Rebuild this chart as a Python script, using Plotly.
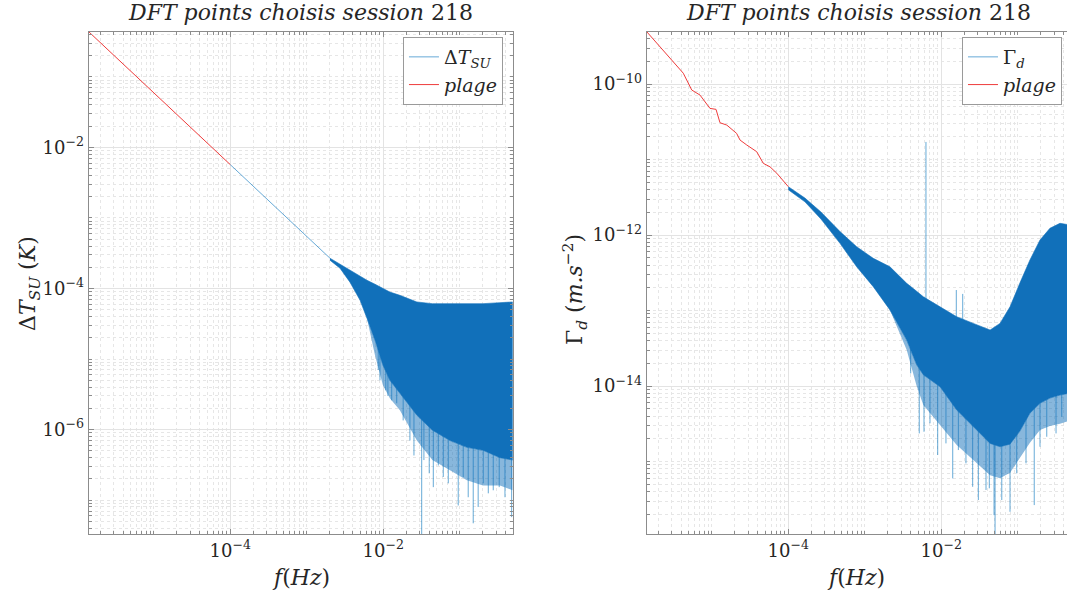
import plotly.graph_objects as go
from plotly.subplots import make_subplots

# ---------------- left panel : Delta T_SU (K) ----------------
dT_line_f = [1.0e-4, 2.01e-3]
dT_line_v = [5.7e-3, 2.69e-4]

dT_band_f = [2.01e-3, 2.72e-3, 3.67e-3, 4.98e-3, 6.12e-3, 7.8e-3, 9.9e-3, 1.22e-2,
             1.65e-2, 2.75e-2, 4.39e-2, 7.45e-2, 0.124, 0.201, 0.335, 0.492]
dT_band_hi = [2.69e-4, 2.2e-4, 1.82e-4, 1.49e-4, 1.31e-4, 1.15e-4, 1.01e-4, 8.9e-5,
              8.0e-5, 6.45e-5, 6.1e-5, 6.1e-5, 6.1e-5, 6.1e-5, 6.3e-5, 6.45e-5]
dT_band_lo = [2.52e-4, 1.94e-4, 1.23e-4, 6.8e-5, 3.8e-5, 1.85e-5, 8.2e-6, 5.0e-6,
              3.27e-6, 1.6e-6, 9.8e-7, 7.0e-7, 5.6e-7, 5.1e-7, 4.0e-7, 3.7e-7]
dT_halo_lo = [2.52e-4, 1.94e-4, 1.23e-4, 6.8e-5, 3.8e-5, 1.13e-5, 4.25e-6, 2.78e-6,
              1.88e-6, 7.0e-7, 3.7e-7, 2.65e-7, 1.91e-7, 1.62e-7, 1.62e-7, 1.38e-7]

dT_spike_f = [8.6e-3, 9.06e-3, 1.08e-2, 1.15e-2, 1.29e-2, 1.50e-2, 1.82e-2, 2.23e-2,
              2.52e-2, 3.18e-2, 3.40e-2, 3.99e-2, 4.51e-2, 5.24e-2, 6.09e-2, 7.08e-2,
              9.55e-2, 0.111, 0.129, 0.150, 0.174, 0.203, 0.236, 0.274, 0.328, 0.390, 0.477]
dT_spike_v = [7.0e-6, 5.0e-6, 3.6e-6, 3.0e-6, 2.6e-6, 2.36e-6, 1.35e-6, 7.0e-7,
              4.3e-7, 2.0e-8, 3.7e-7, 2.4e-7, 1.53e-7, 3.1e-7, 2.13e-7, 1.73e-7,
              8.4e-8, 2.13e-7, 1.1e-7, 4.7e-8, 8.0e-8, 1.73e-7, 1.25e-7, 1.38e-7, 1.53e-7, 1.1e-7, 5.75e-8]
dT_spike_top = 2.0e-5

dT_plage_f = [1.41e-6, 1.0e-4]
dT_plage_v = [0.437, 5.7e-3]

# ---------------- right panel : Gamma_d (m.s^-2) ----------------
Gd_band_f = [1.0e-4, 1.65e-4, 2.67e-4, 4.74e-4, 7.83e-4, 1.29e-3, 2.13e-3, 3.53e-3,
             4.76e-3, 5.82e-3, 9.62e-3, 1.59e-2, 2.62e-2, 4.34e-2, 5.85e-2, 7.91e-2,
             0.106, 0.144, 0.195, 0.263, 0.356, 0.50]
Gd_band_hi = [4.37e-12, 3.09e-12, 2.02e-12, 1.11e-12, 7.0e-13, 4.91e-13, 3.80e-13, 2.29e-13,
              1.80e-13, 1.52e-13, 1.12e-13, 8.28e-14, 6.76e-14, 5.52e-14, 6.76e-14, 1.12e-13,
              2.29e-13, 4.67e-13, 8.59e-13, 1.23e-12, 1.43e-12, 1.35e-12]
Gd_band_lo = [3.98e-12, 2.75e-12, 1.63e-12, 7.76e-13, 3.80e-13, 2.07e-13, 1.02e-13, 4.06e-14,
              1.91e-14, 1.41e-14, 9.8e-15, 4.81e-15, 2.89e-15, 1.74e-15, 1.57e-15, 1.70e-15,
              2.51e-15, 4.37e-15, 5.90e-15, 6.92e-15, 7.59e-15, 8.13e-15]
Gd_halo_lo = [3.98e-12, 2.75e-12, 1.63e-12, 7.76e-13, 3.80e-13, 2.07e-13, 1.02e-13, 3.0e-14,
              1.0e-14, 5.6e-15, 3.04e-15, 1.66e-15, 1.05e-15, 6.6e-16, 6.0e-16, 7.1e-16,
              1.12e-15, 1.78e-15, 2.61e-15, 2.95e-15, 3.16e-15, 3.55e-15]

Gd_spike_f = [3.98e-3, 5.15e-3, 5.94e-3, 6.3e-3, 7.11e-3, 8.97e-3, 1.15e-2, 1.41e-2,
              1.57e-2, 1.67e-2, 1.905e-2, 2.10e-2, 2.57e-2, 3.05e-2, 3.84e-2, 4.24e-2,
              4.89e-2, 5.04e-2, 6.17e-2, 7.91e-2, 9.68e-2, 0.128, 0.164, 0.195, 0.239,
              0.316, 0.375]
Gd_spike_v = [1.47e-14, 2.36e-15, 2.48e-15, 1.71e-11, 3.21e-15, 1.22e-15, 1.74e-15, 5.98e-16,
              1.87e-13, 1.42e-15, 1.66e-13, 9.46e-16, 4.63e-16, 3.09e-16, 4.20e-16, 4.42e-16,
              1.95e-16, 8.0e-17, 3.09e-16, 2.16e-16, 6.97e-16, 9.46e-16, 2.65e-16, 1.57e-15, 2.13e-15,
              2.36e-15, 3.92e-15]
Gd_spike_top = 4.0e-14

Gd_plage_f = [1.41e-6, 4.24e-6, 5.46e-6, 7.01e-6, 9.46e-6, 1.135e-5, 1.28e-5, 1.57e-5,
              2.11e-5, 2.34e-5, 2.86e-5, 3.86e-5, 4.71e-5, 5.77e-5, 7.05e-5, 1.0e-4]
Gd_plage_v = [4.93e-10, 1.39e-10, 8.34e-11, 7.14e-11, 4.76e-11, 4.62e-11, 3.07e-11, 2.86e-11,
              2.22e-11, 1.81e-11, 1.56e-11, 1.27e-11, 8.9e-12, 8.0e-12, 6.6e-12, 4.37e-12]

# tick labels
x_ticks = [1e-4, 1e-2]
x_text = ["10<sup>−4</sup>", "10<sup>−2</sup>"]
dT_yticks = [1e-6, 1e-4, 1e-2]
dT_ytext = ["10<sup>−6</sup>", "10<sup>−4</sup>", "10<sup>−2</sup>"]
Gd_yticks = [1e-14, 1e-12, 1e-10]
Gd_ytext = ["10<sup>−14</sup>", "10<sup>−12</sup>", "10<sup>−10</sup>"]

BLUE = "rgb(17,112,186)"
BLUE_THIN = "rgba(0,114,189,0.6)"
RED = "rgb(238,60,60)"
FONT = "DejaVu Serif"

minor_vals = [k * 10.0 ** n for n in range(-18, 1) for k in range(1, 10)]


def spikes(f, v, top):
    xs, ys = [], []
    for fi, vi in zip(f, v):
        xs += [fi, fi, None]
        ys += [top, vi, None]
    return xs, ys


def add_panel(fig, col, name, line_f, line_v, band_f, hi, lo, halo, sp_f, sp_v, sp_top,
              plage_f, plage_v, legend):
    sx, sy = spikes(sp_f, sp_v, sp_top)
    fig.add_trace(go.Scatter(x=sx, y=sy, mode='lines', name=name, legend=legend,
                             line=dict(color=BLUE_THIN, width=1)), row=1, col=col)
    # lighter fringe of the noise below the dense core
    fig.add_trace(go.Scatter(x=band_f + band_f[::-1], y=lo + halo[::-1], mode='lines',
                             fill='toself', fillcolor='rgba(17,112,186,0.5)',
                             line=dict(width=0), showlegend=False, hoverinfo='skip'),
                  row=1, col=col)
    # dense core of the spectrum
    fig.add_trace(go.Scatter(x=band_f + band_f[::-1], y=hi + lo[::-1], mode='lines',
                             fill='toself', fillcolor=BLUE,
                             line=dict(color=BLUE, width=0.6), showlegend=False),
                  row=1, col=col)
    if line_f:
        fig.add_trace(go.Scatter(x=line_f, y=line_v, mode='lines', showlegend=False,
                                 line=dict(color=BLUE_THIN, width=1)), row=1, col=col)
    fig.add_trace(go.Scatter(x=plage_f, y=plage_v, mode='lines', name='<i>plage</i>',
                             legend=legend, line=dict(color=RED, width=1)), row=1, col=col)


fig = make_subplots(rows=1, cols=2)

add_panel(fig, 1, "Δ<i>T<sub>SU</sub></i>", dT_line_f, dT_line_v, dT_band_f, dT_band_hi,
          dT_band_lo, dT_halo_lo, dT_spike_f, dT_spike_v, dT_spike_top,
          dT_plage_f, dT_plage_v, 'legend')
add_panel(fig, 2, "Γ<sub><i>d</i></sub>", None, None, Gd_band_f, Gd_band_hi,
          Gd_band_lo, Gd_halo_lo, Gd_spike_f, Gd_spike_v, Gd_spike_top,
          Gd_plage_f, Gd_plage_v, 'legend2')

axis_common = dict(
    type='log', showline=True, linecolor='#8c8c8c', linewidth=1, mirror='ticks',
    ticks='inside', ticklen=5, tickcolor='#8c8c8c', showgrid=True, automargin=False,
    gridcolor='#e3e3e3', gridwidth=1, zeroline=False, tickmode='array',
    tickfont=dict(family=FONT, size=18, color='#262626'),
    minor=dict(tickmode='array', tickvals=minor_vals, ticks='inside', ticklen=3,
               tickcolor='#8c8c8c', showgrid=True, gridcolor='#e6e6e6', griddash='dot'),
)

fig.update_xaxes(**axis_common, tickvals=x_ticks, ticktext=x_text)
fig.update_xaxes(domain=[0.0831, 0.4805], range=[-5.851, -0.308], row=1, col=1)
fig.update_xaxes(domain=[0.6061, 1.0], range=[-5.851, -0.357], row=1, col=2)
fig.update_yaxes(**axis_common)
fig.update_yaxes(domain=[0.1144, 0.9474], range=[-7.48, -0.36],
                 tickvals=dT_yticks, ticktext=dT_ytext, row=1, col=1)
fig.update_yaxes(domain=[0.1144, 0.9474], range=[-15.96, -9.307], mirror=False,
                 tickvals=Gd_yticks, ticktext=Gd_ytext, row=1, col=2)

title_txt = "<i>DFT points choisis session</i> 218"
ann = [
    dict(x=0.2818, y=0.980, text=title_txt, font=dict(size=22)),
    dict(x=0.8048, y=0.980, text=title_txt, font=dict(size=22)),
    dict(x=0.2818, y=0.0415, text="<i>f</i>(<i>Hz</i>)", font=dict(size=22)),
    dict(x=0.8025, y=0.0415, text="<i>f</i>(<i>Hz</i>)", font=dict(size=22)),
    dict(x=0.0281, y=0.5307, text="Δ<i>T<sub>SU</sub></i> (<i>K</i>)", textangle=-90,
         font=dict(size=22)),
    dict(x=0.5389, y=0.519, text="Γ<sub><i>d</i></sub> (<i>m.s</i><sup>−2</sup>)",
         textangle=-90, font=dict(size=22)),
]
for a in ann:
    a.update(xref='paper', yref='paper', showarrow=False, xanchor='center', yanchor='middle')
    a['font'].update(family=FONT, color='#262626')

legend_style = dict(bgcolor='white', bordercolor='#9a9a9a', borderwidth=1,
                    font=dict(family=FONT, size=19, color='#262626'),
                    xanchor='right', yanchor='top', tracegroupgap=0)

fig.update_layout(
    width=1067, height=603,
    margin=dict(l=0, r=0, t=0, b=0),
    plot_bgcolor='white', paper_bgcolor='white',
    annotations=ann,
    legend=dict(x=0.4714, y=0.9386, **legend_style),
    legend2=dict(x=0.9953, y=0.9386, **legend_style),
    hovermode=False,
)

# the page body has an 8px default margin; drop it so the figure fills the window
fig.write_html("out.html", config={'displayModeBar': False},
               post_script="document.body.style.margin='0';")
